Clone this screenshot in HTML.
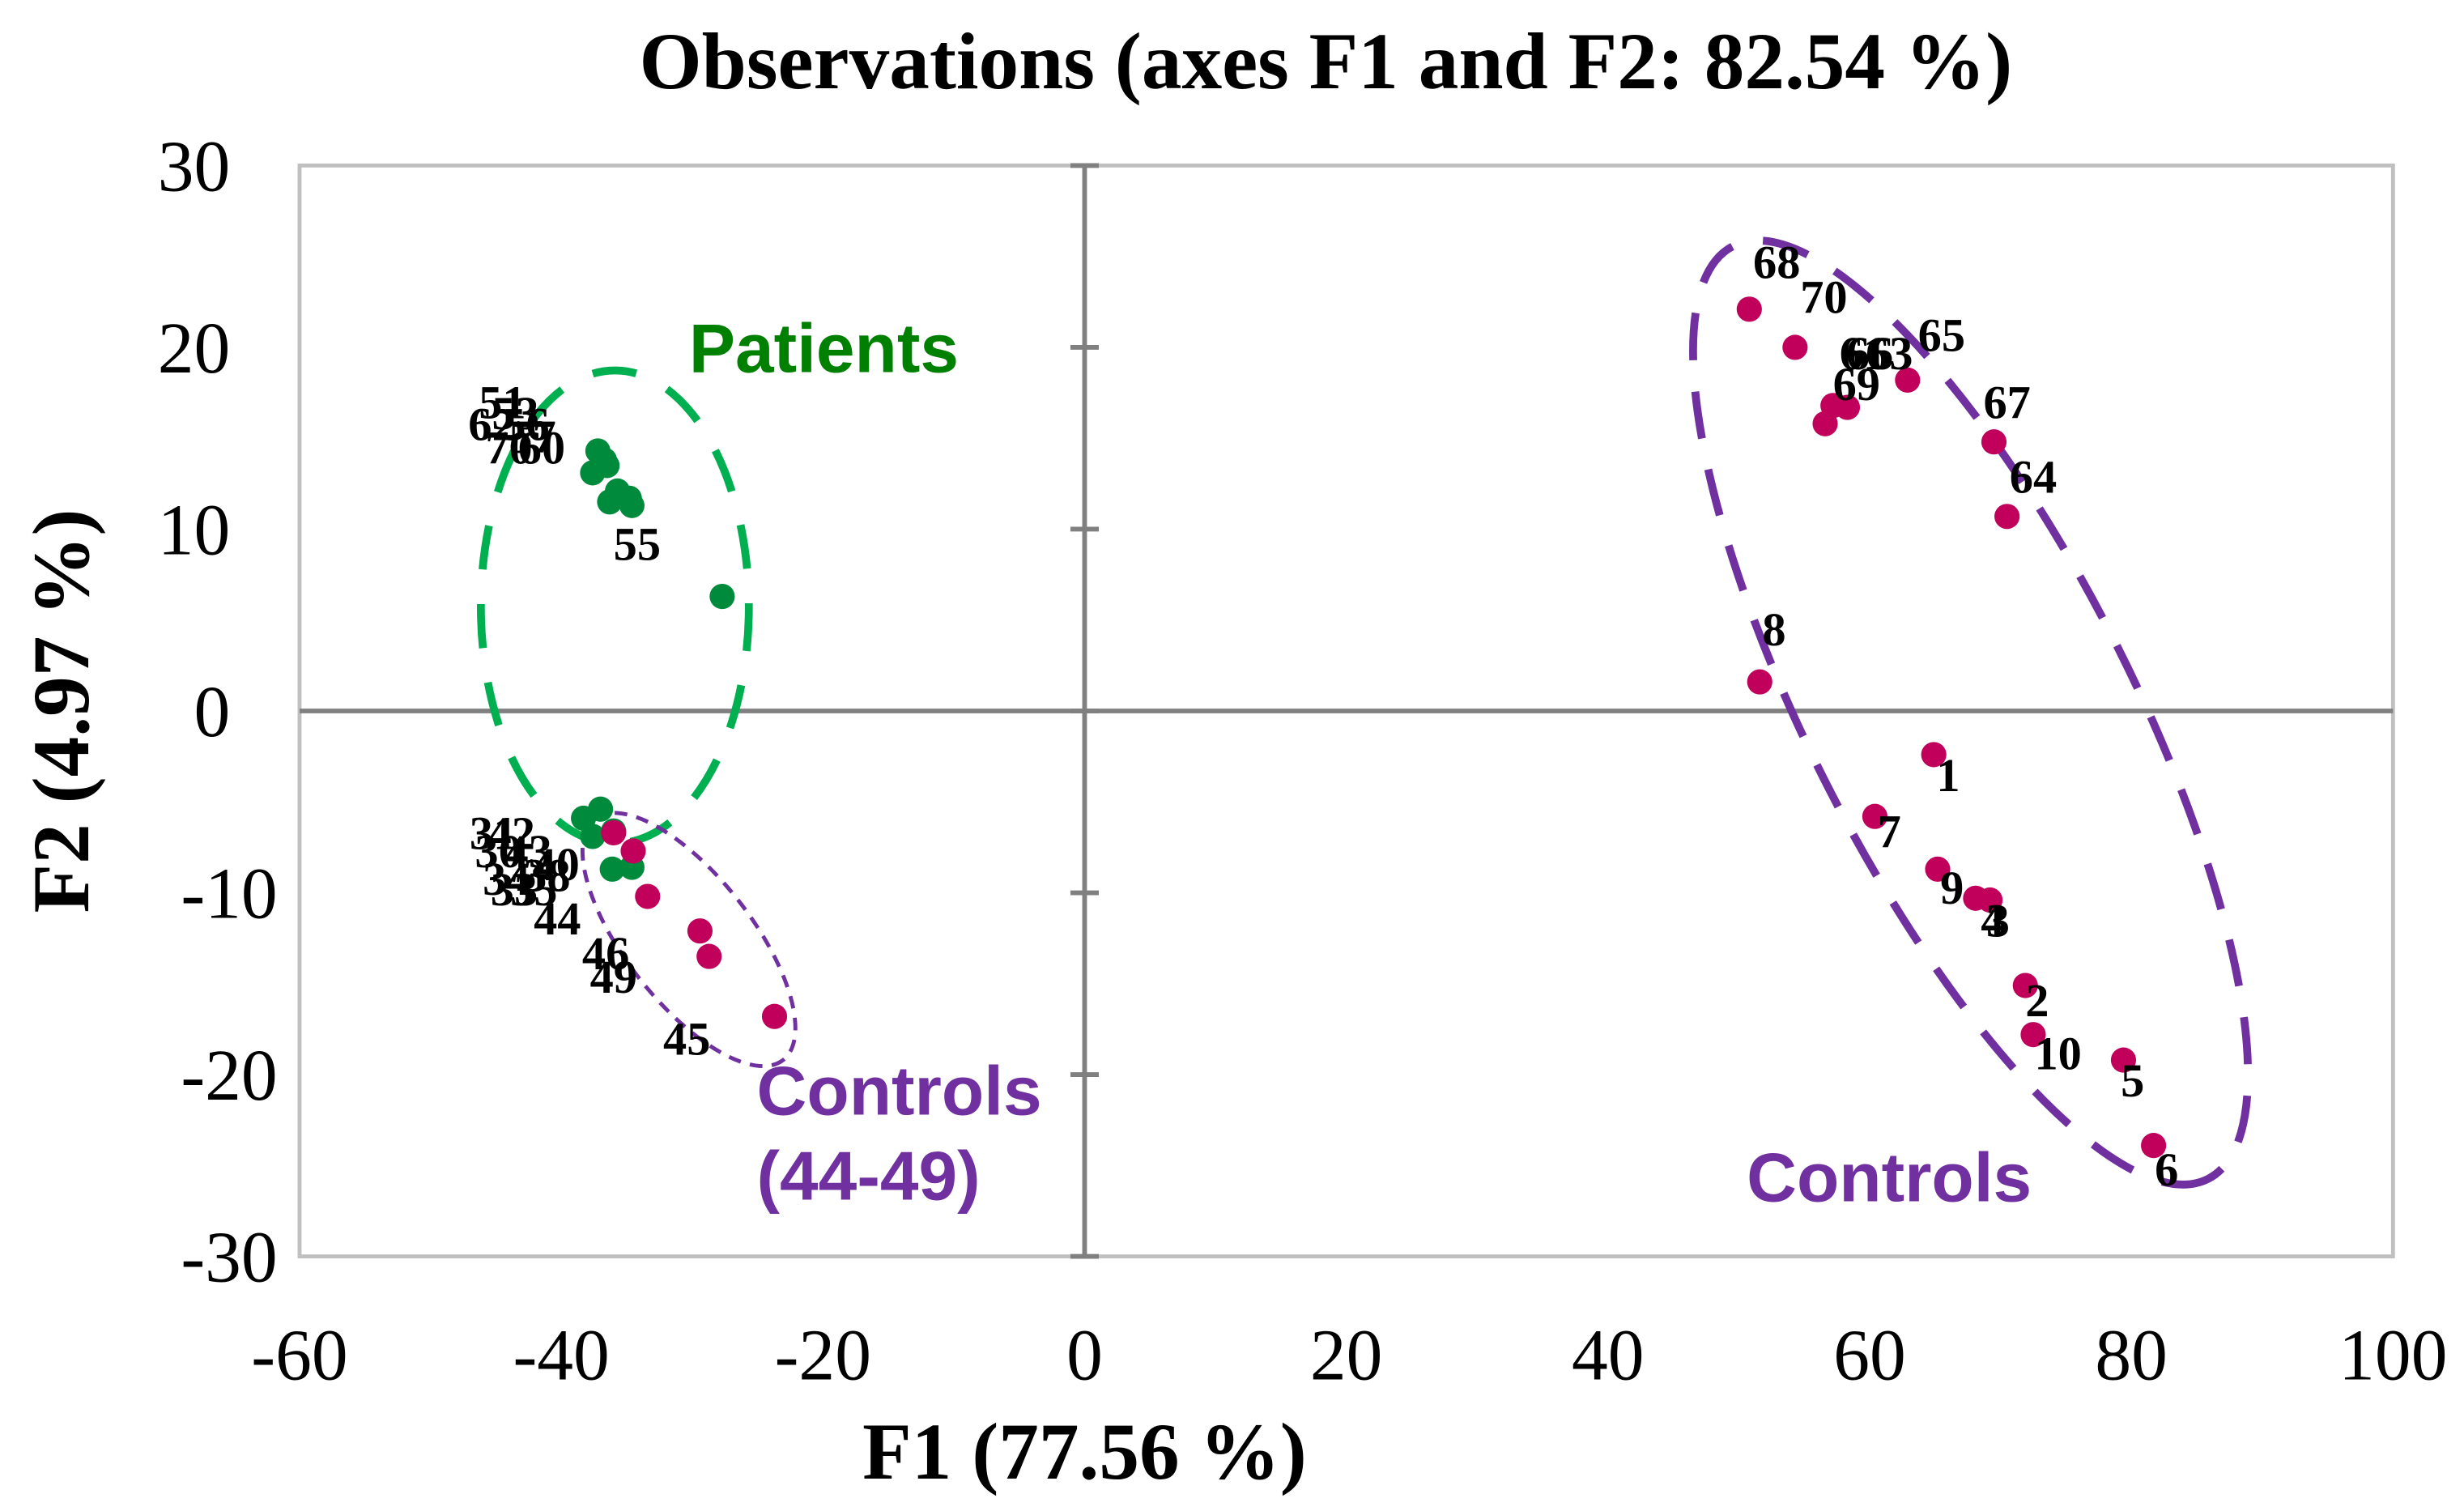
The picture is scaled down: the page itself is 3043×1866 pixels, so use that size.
<!DOCTYPE html>
<html><head><meta charset="utf-8"><style>
html,body{margin:0;padding:0;background:#fff;}
svg{display:block;}
.tnr{font-family:"Liberation Serif",serif;}
.lbl{font-family:"Liberation Serif",serif;font-weight:bold;font-size:30px;fill:#000;}
.ann{font-family:"Liberation Sans",sans-serif;font-weight:bold;font-size:44px;}
</style></head><body>
<svg id="chart" width="3043" height="1866" viewBox="0 0 1563 958.5" xmlns="http://www.w3.org/2000/svg">
<text class="tnr" x="841" y="56" font-size="51" font-weight="bold" text-anchor="middle">Observations (axes F1 and F2: 82.54 %)</text>
<rect x="190" y="105" width="1328" height="692" fill="none" stroke="#c0c0c0" stroke-width="2.5"/>
<g id="axes"></g>
<g id="ellipses">
<ellipse cx="390" cy="385" rx="85" ry="150" fill="none" stroke="#00b050" stroke-width="5" stroke-dasharray="28 22"/>
<ellipse cx="0" cy="0" rx="332" ry="102" transform="translate(1250,452) rotate(63)" fill="none" stroke="#7030a0" stroke-width="5" stroke-dasharray="30 20"/>
<ellipse cx="0" cy="0" rx="97" ry="40" transform="translate(437,596) rotate(52)" fill="none" stroke="#7030a0" stroke-width="2.5" stroke-dasharray="8 6"/>
</g>
<g id="points"></g>
<g id="labels"></g>
<text class="ann" x="437" y="236" fill="#008000">Patients</text>
<text class="ann" x="480" y="707" fill="#7030a0">Controls</text>
<text class="ann" x="480" y="761" fill="#7030a0">(44-49)</text>
<text class="ann" x="1108" y="762" fill="#7030a0">Controls</text>
<text class="tnr" x="688" y="938" font-size="51" font-weight="bold" text-anchor="middle">F1 (77.56 %)</text>
<text class="tnr" font-size="51" font-weight="bold" text-anchor="middle" transform="translate(56,451) rotate(-90)">F2 (4.97 %)</text>
</svg>
<script>
const xTicks=[-60,-40,-20,0,20,40,60,80,100];
const yTicks=[-30,-20,-10,0,10,20,30];
const patientX=[-37.2,-36.7,-37.6,-36.5,-35.7,-34.8,-36.3,-34.6,-27.7,-37,-38.3,-36.0,-36.1,-34.6,-37.6];
const patientY=[14.3,13.8,13.1,13.5,12.1,11.7,11.5,11.3,6.3,-5.4,-5.9,-6.6,-8.7,-8.6,-6.9];
const controlX=[50.8,54.3,57.2,58.3,56.6,62.9,69.5,70.5,51.6,64.9,60.4,65.2,68.1,69.2,71.9,72.5,79.4,81.7,-36,-34.5,-33.4,-29.4,-28.7,-23.7];
const controlY=[22.1,20.0,16.8,16.7,15.8,18.2,14.8,10.7,1.6,-2.4,-5.8,-8.7,-10.3,-10.4,-15.1,-17.8,-19.2,-23.9,-6.7,-7.7,-10.2,-12.1,-13.5,-16.8];
const labelText=["68","70","66","63","61","69","65","67","64","8","1","7","9","4","3","2","10","5","6","44","46","49","45","55","51","53","62","56","70","60","57","42","43","30","31","33","35","38","40","34"];
const labelX=[52.9,56.5,60,61.5,59.5,59,65.5,70.5,72.5,52.7,66,61.5,66.3,69.4,69.8,72.8,74.4,80.1,82.7,-40.3,-36.6,-36,-30.4,-34.2,-44.5,-43.5,-45.3,-42.7,-44,-41.5,-42.2,-43.8,-42.5,-44.8,-45.2,-43.6,-42.1,-41.1,-40.4,-44.2];
const labelY=[23.8,21.9,18.8,18.8,18.8,17.1,19.8,16.1,12.0,3.6,-4.4,-7.5,-10.6,-12.4,-12.4,-16.8,-19.7,-21.2,-26.1,-12.3,-14.2,-15.5,-18.9,8.3,16.1,15.5,14.9,14.9,13.6,13.6,14.2,-7.6,-8.6,-8.6,-7.6,-10.7,-10.7,-9.9,-9.3,-10.1];
const X=v=>688+v*8.3, Y=v=>451-v*11.533;
const NS="http://www.w3.org/2000/svg";
const axes=document.getElementById('axes');
function mk(tag,attrs,parent){const e=document.createElementNS(NS,tag);for(const k in attrs)e.setAttribute(k,attrs[k]);parent.appendChild(e);return e;}
let l=mk('line',{x1:X(0),x2:X(0),y1:Y(30),y2:Y(-30),stroke:'#808080','stroke-width':3},axes);


l=mk('line',{x1:X(-60),x2:X(100),y1:Y(0),y2:Y(0),stroke:'#808080','stroke-width':3},axes);


yTicks.forEach(t=>{
 const tk=mk('line',{x1:X(0)-9,x2:X(0)+9,y1:Y(t),y2:Y(t),stroke:'#808080','stroke-width':3},axes);
 
 
 const tx=mk('text',{x:t<0?176:146,y:Y(t)+16,'font-size':46,'text-anchor':'end','class':'tnr'},axes);
 tx.textContent=t;
 
 
});
xTicks.forEach(t=>{
 const tx=mk('text',{x:X(t),y:875,'font-size':46,'text-anchor':'middle','class':'tnr'},axes);
 tx.textContent=t;
 
 
});
const pts=document.getElementById('points');
patientX.forEach((v,i)=>{
 const c=mk('circle',{cx:X(v),cy:Y(patientY[i]),r:8,fill:'#008a3c'},pts);
 
 
});
controlX.forEach((v,i)=>{
 const c=mk('circle',{cx:X(v),cy:Y(controlY[i]),r:8,fill:'#c0005a'},pts);
 
 
});
const lg=document.getElementById('labels');
labelText.forEach((s,i)=>{
 const t=mk('text',{x:X(labelX[i]),y:Y(labelY[i]),'class':'lbl','text-anchor':'middle'},lg);
 t.textContent=s;
 
 
});
</script>
</body></html>
